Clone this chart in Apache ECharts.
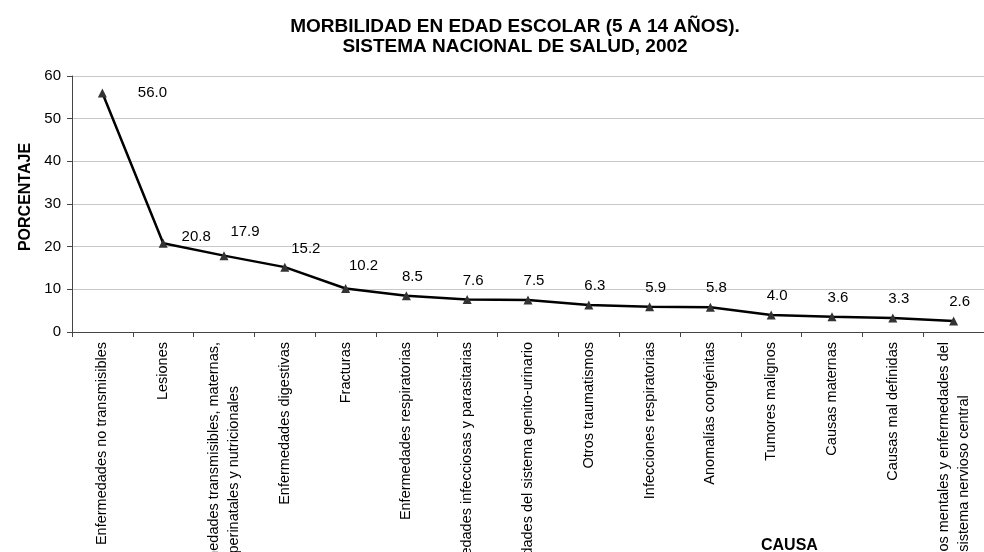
<!DOCTYPE html>
<html>
<head>
<meta charset="utf-8">
<script src="https://cdn.jsdelivr.net/npm/echarts@6/dist/echarts.min.js"></script>
<style>
  html, body { margin: 0; padding: 0; background: #fff; }
  #chart { width: 984px; height: 552px; }
</style>
</head>
<body>
<div id="chart"></div>
<script>
// categories (labels with a line break are shown on two lines)
const causas = [
    'Enfermedades no transmisibles',
    'Lesiones',
    'Enfermedades transmisibles, maternas,\nperinatales y nutricionales',
    'Enfermedades digestivas',
    'Fracturas',
    'Enfermedades respiratorias',
    'Enfermedades infecciosas y parasitarias',
    'Enfermedades del sistema genito-urinario',
    'Otros traumatismos',
    'Infecciones respiratorias',
    'Anomalías congénitas',
    'Tumores malignos',
    'Causas maternas',
    'Causas mal definidas',
    'Trastornos mentales y enfermedades del\nsistema nervioso central'
];
const porcentaje = [56.0, 20.8, 17.9, 15.2, 10.2, 8.5, 7.6, 7.5, 6.3, 5.9, 5.8, 4.0, 3.6, 3.3, 2.6];
const yTicks = [0, 10, 20, 30, 40, 50, 60];

// where the value labels sit relative to the default 'top' place
const labelShift = [[50, 16], [33, 10], [21, -8], [21, -2], [18, -7]];

const font = '"Liberation Sans", Arial, sans-serif';
let chart = echarts.init(document.getElementById('chart'));

chart.setOption({
    animation: false,
    backgroundColor: '#fff',
    title: {
        text: 'MORBILIDAD EN EDAD ESCOLAR (5 A 14 AÑOS).\nSISTEMA NACIONAL DE SALUD, 2002',
        left: 510,
        top: 12,
        textAlign: 'center',
        textStyle: {
            fontFamily: font,
            fontSize: 19,
            fontWeight: 'bold',
            color: '#000',
            lineHeight: 20
        }
    },
    graphic: [{
        type: 'text',
        left: 761,
        top: 538,
        style: {
            text: 'CAUSA',
            font: 'bold 16px ' + font,
            fill: '#000'
        }
    }],
    grid: {
        left: 72,
        right: 0,
        top: 76,
        bottom: 220,
        outerBoundsMode: 'none',
        containLabel: false
    },
    xAxis: {
        type: 'category',
        data: causas,
        axisLine: { lineStyle: { color: '#444', width: 1 } },
        axisTick: { show: true, length: 5, lineStyle: { color: '#444' } },
        axisLabel: {
            interval: 0,
            rotate: 90,
            margin: 10,
            color: '#000',
            fontFamily: font,
            fontSize: 14.5,
            formatter: (v) => v.split('\n').map(s => '{c|' + s + '}').join('\n'),
            rich: {
                c: {
                    align: 'center',
                    fontFamily: font,
                    fontSize: 14.5,
                    lineHeight: 20,
                    color: '#000'
                }
            }
        }
    },
    yAxis: {
        type: 'value',
        min: yTicks[0],
        max: yTicks[yTicks.length - 1],
        interval: 10,
        name: 'PORCENTAJE',
        nameLocation: 'middle',
        nameGap: 38,
        nameTextStyle: {
            fontFamily: font,
            fontSize: 16,
            fontWeight: 'bold',
            color: '#000',
            padding: [0, 0, 0, 14]
        },
        axisLine: { show: true, lineStyle: { color: '#444', width: 1 } },
        axisTick: { show: true, length: 5, lineStyle: { color: '#444' } },
        axisLabel: {
            margin: 11,
            color: '#000',
            fontFamily: font,
            fontSize: 15
        },
        splitLine: { lineStyle: { color: '#c8c8c8', width: 1 } }
    },
    series: [{
        type: 'line',
        data: porcentaje.map((v, i) => ({
            value: v,
            label: { offset: labelShift[i] || [6, -3] }
        })),
        symbol: 'triangle',
        symbolSize: 9,
        itemStyle: { color: '#333' },
        lineStyle: { color: '#000', width: 2.5 },
        label: {
            show: true,
            position: 'top',
            distance: 4,
            color: '#000',
            fontFamily: font,
            fontSize: 15,
            formatter: (p) => p.value.toFixed(1)
        }
    }]
});
</script>
</body>
</html>
